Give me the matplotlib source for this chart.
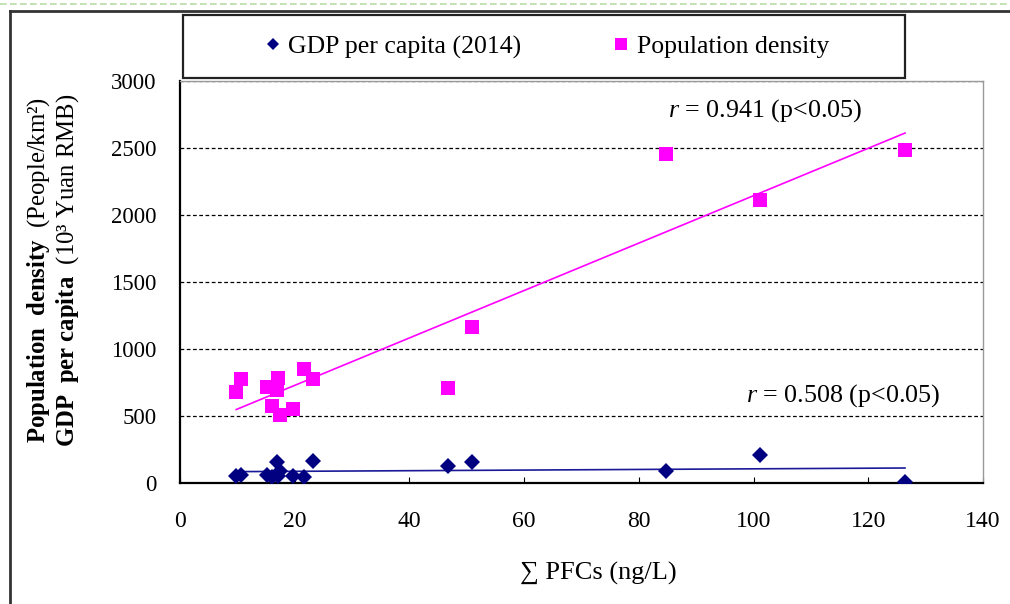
import numpy as np
import matplotlib.pyplot as plt
from matplotlib.lines import Line2D
from matplotlib.patches import Rectangle

plt.rcParams['font.family'] = ['Liberation Serif', 'DejaVu Serif']
plt.rcParams['mathtext.fontset'] = 'custom'
plt.rcParams['mathtext.rm'] = 'Liberation Serif'
plt.rcParams['mathtext.it'] = 'Liberation Serif:italic'
plt.rcParams['mathtext.bf'] = 'Liberation Serif:bold'

# sum of PFCs at each site (ng/L)
pfcs = [9.8, 10.6, 15.1, 16.0, 16.9, 17.1, 17.4, 19.7, 21.7, 23.2,
        46.7, 50.9, 84.8, 101.2, 126.4]
# GDP per capita (10^3 Yuan RMB)
gdp = [52, 60, 60, 47, 154, 52, 92, 52, 47, 166,
       129, 157, 90, 209, 5]
# population density (people/km2)
pop = [679, 776, 719, 575, 694, 786, 507, 552, 851, 778,
       707, 1164, 2455, 2112, 2485]

r_pop = "$\\mathit{r}$ = 0.941 (p<0.05)"
r_gdp = "$\\mathit{r}$ = 0.508 (p<0.05)"

pink = '#FF00FF'
navy = '#000080'

x = np.array(pfcs)
fig = plt.figure(figsize=(10.1, 6.04), dpi=100)
ax = fig.add_axes([180/1010, 1 - 483/604, 803/1010, 402/604])

ax.plot(x, gdp, 'D', color=navy, ms=8.5, mew=0, zorder=4)
ax.plot(x, pop, 's', color=pink, ms=10, mew=0, zorder=4)

# linear trend lines
xs = np.array([x.min(), x.max()])
k, b = np.polyfit(x, pop, 1)
ax.plot(xs, k * xs + b, color=pink, lw=1.2, zorder=3)
k, b = np.polyfit(x, gdp, 1)
ax.plot(xs, k * xs + b, color='#1a1a99', lw=1.2, zorder=3)

ax.set_xlim(0, 140)
ax.set_ylim(0, 3000)
ax.set_xticks(np.arange(0, 141, 20))
ax.set_yticks(np.arange(0, 3001, 500))
ax.tick_params(axis='x', direction='in', length=4, pad=20, labelsize=17)
ax.tick_params(axis='y', length=0, pad=17, labelsize=16.5)
ax.yaxis.grid(True, color='black', ls=(0, (3, 2)), lw=0.9)
ax.set_axisbelow(True)
for s in ['left', 'bottom']:
    ax.spines[s].set_linewidth(1.6)
for s in ['top', 'right']:
    ax.spines[s].set_color('#999999')
    ax.spines[s].set_linewidth(1.0)

ax.text(85, 2776, r_pop, fontsize=18.7, va='center')
ax.text(98.6, 650, r_gdp, fontsize=18.7, va='center')

fig.text(598/1010, 1 - 573/604, '\u2211 PFCs (ng/L)', fontsize=19,
         ha='center', va='center')
fig.text(39/1010, 1 - 270/604,
         '$\\mathbf{Population\\ \\ density}$  (People/km\u00b2)',
         fontsize=17.8, rotation=90, ha='center', va='center')
fig.text(68/1010, 1 - 270/604,
         '$\\mathbf{GDP\\ \\ per\\ capita}$  (10\u00b3 Yuan RMB)',
         fontsize=17.8, rotation=90, ha='center', va='center')

# legend with its own box
fig.patches.append(Rectangle((183/1010, 1 - 78/604), 722/1010, 63/604,
                             transform=fig.transFigure, fill=False,
                             ec='#222222', lw=1.6))
handles = [Line2D([], [], ls='', marker='D', color=navy, ms=6.5, mew=0),
           Line2D([], [], ls='', marker='s', color=pink, ms=8, mew=0)]
fig.legend(handles, ['GDP per capita (2014)', 'Population density'],
           loc='center', bbox_to_anchor=(547/1010, 1 - 47/604), ncol=2,
           frameon=False, fontsize=18.5, handlelength=0.6,
           handletextpad=0.3, columnspacing=3.6)

# outer frame and dashed top line
fig.add_artist(Line2D([10/1010, 10/1010], [0, 1 - 11/604], color='#333333',
                      lw=2, transform=fig.transFigure))
fig.add_artist(Line2D([10/1010, 1], [1 - 11/604, 1 - 11/604], color='#333333',
                      lw=2, transform=fig.transFigure))
fig.add_artist(Line2D([0, 1], [1 - 4/604, 1 - 4/604], color='#b9dca6',
                      lw=1.2, ls=(0, (4, 2)), transform=fig.transFigure))

fig.savefig('out.png', dpi=100)
